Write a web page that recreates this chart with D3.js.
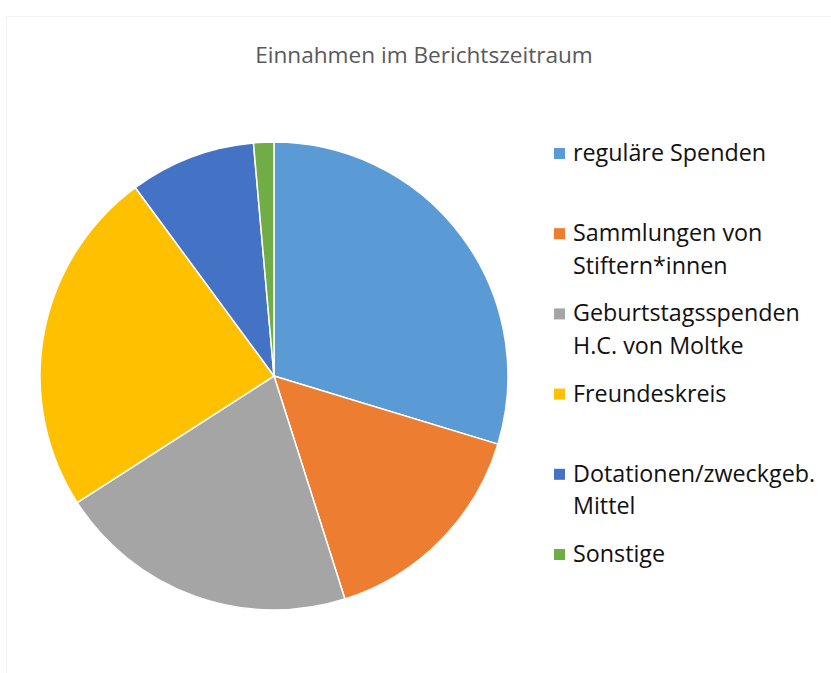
<!DOCTYPE html>
<html><head><meta charset="utf-8">
<script src="https://cdn.jsdelivr.net/npm/d3@7"></script>
<style>body{margin:0;background:#fff} text{font-variant-ligatures:none}</style>
</head><body>
<svg id="c" width="831" height="673"></svg>
<script>
const categories = ["reguläre Spenden","Sammlungen von Stiftern*innen","Geburtstagsspenden H.C. von Moltke","Freundeskreis","Dotationen/zweckgeb. Mittel","Sonstige"];
const legendLines = [["reguläre Spenden"],["Sammlungen von","Stiftern*innen"],["Geburtstagsspenden","H.C. von Moltke"],["Freundeskreis"],["Dotationen/zweckgeb.","Mittel"],["Sonstige"]];
const values = [29.7, 15.4, 20.8, 24.0, 8.7, 1.4];
const colors = ["#5B9BD5","#ED7D31","#A5A5A5","#FFC000","#4472C4","#70AD47"];
const title = "Einnahmen im Berichtszeitraum";

const svg = d3.select("#c");
svg.append("rect").attr("x",6.5).attr("y",16.5).attr("width",830).attr("height",660)
  .attr("fill","none").attr("stroke","#f3f3f3").attr("stroke-width",1);

svg.append("text").attr("x",424).attr("y",63).attr("text-anchor","middle")
  .attr("font-family","'Open Sans', sans-serif").attr("font-size",22.6)
  .attr("fill","#595959").text(title);

const cx=274, cy=376, r=234;
const pie = d3.pie().sort(null).value(d=>d);
const arc = d3.arc().innerRadius(0).outerRadius(r);
const g = svg.append("g").attr("transform",`translate(${cx},${cy})`);
g.selectAll("path").data(pie(values)).join("path")
  .attr("d",arc).attr("fill",(d,i)=>colors[i])
  .attr("stroke","#fff").attr("stroke-width",1.5).attr("stroke-linejoin","round");

const color = d3.scaleOrdinal().domain(categories).range(colors);
const lg = svg.append("g");
categories.forEach((c,i)=>{
  const y0 = 161 + i*80.2;
  lg.append("rect").attr("x",554).attr("y",y0-13).attr("width",11).attr("height",11).attr("fill",color(c));
  legendLines[i].forEach((t,j)=>{
    lg.append("text").attr("x",573).attr("y",y0+j*32.5)
      .attr("font-family","'Open Sans', sans-serif").attr("font-size",23.3)
      .attr("fill","#111").text(t);
  });
});
</script>
</body></html>
